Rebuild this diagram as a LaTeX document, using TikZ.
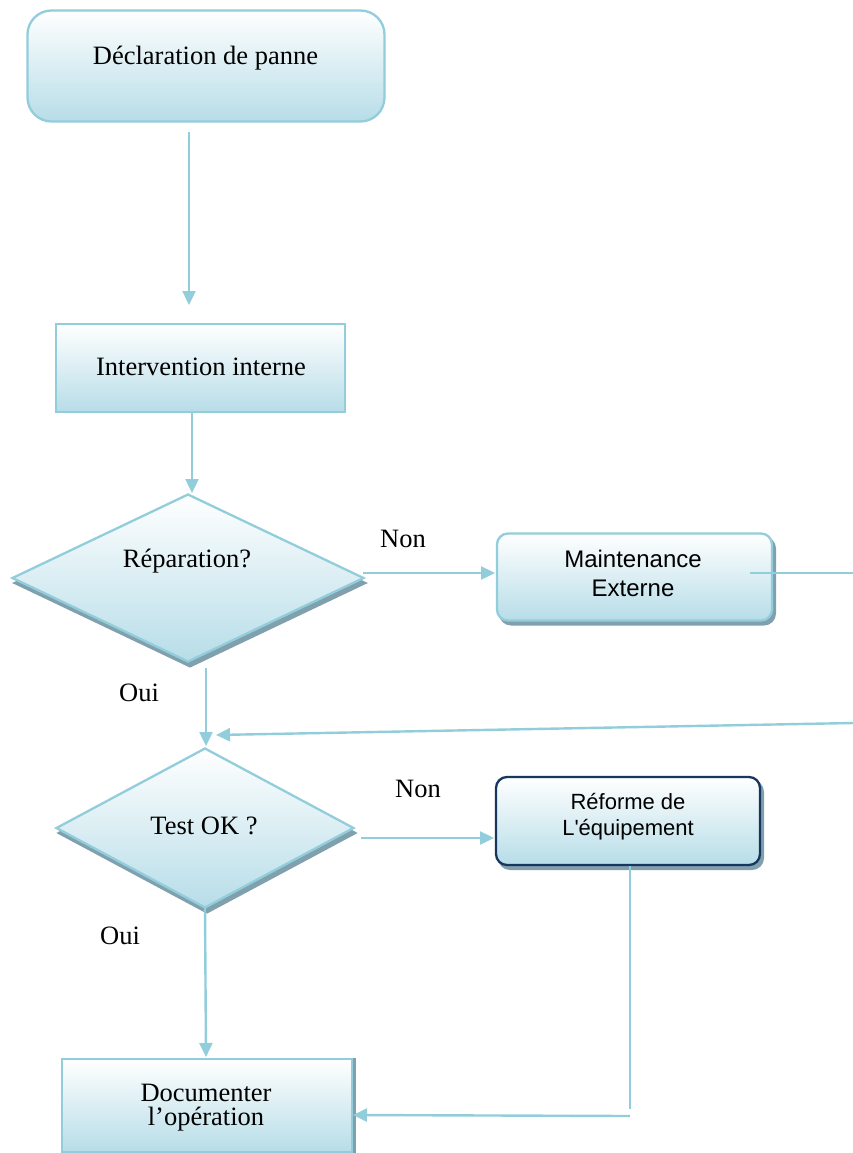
\documentclass[tikz,border=0pt]{standalone}
\usepackage{fontspec}
\setmainfont{Liberation Serif}
\newfontfamily\arialfont{Liberation Sans}
\usetikzlibrary{shapes.geometric,arrows.meta}
\definecolor{lineblue}{RGB}{146,205,220}
\definecolor{fillblue}{RGB}{183,221,232}
\definecolor{navyline}{RGB}{23,55,94}
\definecolor{shadowgray}{RGB}{128,160,174}
\begin{document}
\begin{tikzpicture}[x=1pt,y=-1pt,
  every node/.style={inner sep=0pt,outer sep=0pt},
  shaded/.style={top color=white,bottom color=fillblue,draw=lineblue,line width=2.3pt},
  castshadow/.style 2 args={preaction={fill=shadowgray,draw=shadowgray,line width=2pt,
      transform canvas={xshift=#1,yshift=#2}}},
  squarebox/.style={shaded,rectangle},
  roundbox/.style={shaded,rectangle,rounded corners=11pt},
  decision/.style={shaded,diamond},
  txt/.style={font=\fontsize{26.5}{24}\selectfont,align=center},
  sanstxt/.style={font=\arialfont\fontsize{24}{29}\selectfont,align=center},
  conn/.style={draw=lineblue,line width=2.4pt},
  arr/.style={conn,-{Triangle[length=14pt,width=13pt]}}]

\fill[white] (0,0) rectangle (853,1153);
\useasboundingbox (0,0) rectangle (853,1153);

% --- boxes and decisions
\node[roundbox,rounded corners=24pt,minimum width=357pt,minimum height=111pt] (decl) at (206,66) {};
\node[txt,anchor=base] (decltxt) at (205.5,65) {Déclaration de panne};

\node[squarebox,minimum width=289pt,minimum height=88pt] (interv) at (200.5,368) {};
\node[txt,anchor=base] (intervtxt) at (201,375) {Intervention interne};

\node[decision,castshadow={2pt}{-5pt},minimum width=351pt,minimum height=167pt] (rep) at (188,578) {};
\node[txt,anchor=base] (reptxt) at (187,567) {Réparation?};

\node[roundbox,castshadow={3pt}{-4pt},minimum width=275pt,minimum height=87pt] (maint) at (634.5,577) {};
\node[sanstxt] (mainttxt) at (633,573) {Maintenance\\Externe};

\node[decision,castshadow={2pt}{-5pt},minimum width=297pt,minimum height=159pt] (test) at (205,828) {};
\node[txt,anchor=base] (testtxt) at (204,834) {Test OK ?};

\node[roundbox,draw=navyline,castshadow={3pt}{-4pt},minimum width=264pt,minimum height=88pt] (reform) at (628,821) {};
\node[sanstxt,font=\arialfont\fontsize{22}{26}\selectfont] (reformtxt) at (628,817) {Réforme de\\L'équipement};

\node[squarebox,castshadow={2.5pt}{0pt},minimum width=290pt,minimum height=93pt] (doc) at (207,1105.5) {};
\node[txt] (doctxt) at (206,1107.5) {Documenter\\l’opération};

% --- branch labels
\node[txt,anchor=base] (non1) at (403,547) {Non};
\node[txt,anchor=base] (non2) at (418,797) {Non};
\node[txt,anchor=base] (oui1) at (139,701) {Oui};
\node[txt,anchor=base] (oui2) at (120,944) {Oui};

% --- connector end points
\coordinate (declout) at (189,132);
\coordinate (intervin) at (189,305);
\coordinate (intervout) at (192,412);
\coordinate (repin) at (192,493);
\coordinate (repout) at (363,573);
\coordinate (maintin) at (495,573);
\coordinate (maintout) at (750,573);
\coordinate (rightA) at (853,573);
\coordinate (rightB) at (853,723);
\coordinate (merge) at (216,735);
\coordinate (ouiout) at (206,668);
\coordinate (testin) at (206,746);
\coordinate (testout) at (361,838);
\coordinate (reformin) at (494,838);
\coordinate (reformout) at (630,866);
\coordinate (reformdown) at (630,1109);
\coordinate (backstart) at (630,1116);
\coordinate (docin) at (353,1115);
\coordinate (testdown) at (206,1057);

% --- connectors
\draw[arr] (declout) -- (intervin);
\draw[arr] (intervout) -- (repin);
\draw[arr] (repout) -- (maintin);
\draw[conn] (maintout) -- (rightA);
\draw[arr] (rightB) -- (merge);
\draw[arr] (ouiout) -- (testin);
\draw[arr] (testout) -- (reformin);
\draw[arr] (test.south) -- (testdown);
\draw[conn] (reformout) -- (reformdown);
\draw[arr] (backstart) -- (docin);
\end{tikzpicture}
\end{document}
